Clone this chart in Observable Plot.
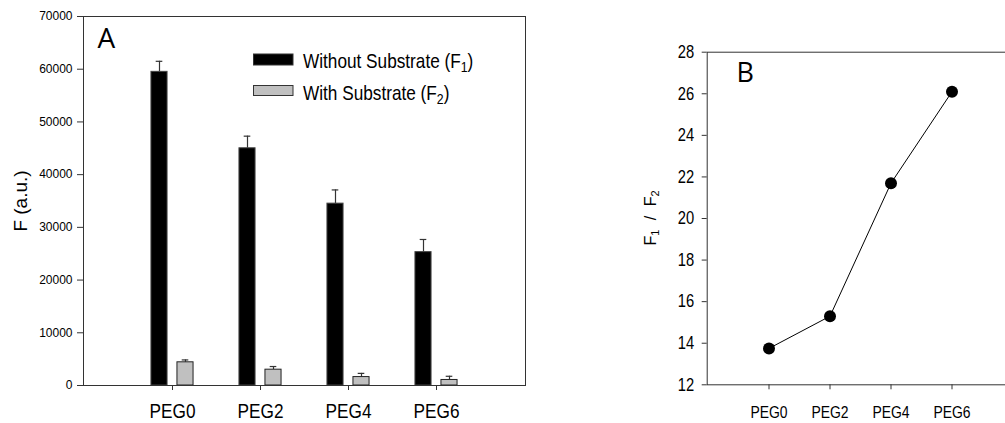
<!DOCTYPE html>
<html><head><meta charset="utf-8">
<script src="https://cdn.jsdelivr.net/npm/d3@7"></script>
<script src="https://cdn.jsdelivr.net/npm/@observablehq/plot@0.6"></script>
<style>
html,body{margin:0;padding:0;background:#fff;overflow:hidden;}
#wrap{position:relative;width:1005px;height:423px;overflow:hidden;}
#wrap > svg{position:absolute;top:0;}
#pa{left:0;}
#pb{left:560px;}
#ov{left:0;pointer-events:none;}
</style></head><body><div id="wrap"></div>
<script>
// ---- data ----
const categories = ["PEG0", "PEG2", "PEG4", "PEG6"];
const withoutSubstrate = [59500, 45000, 34500, 25300];      // F1
const withoutSubstrateErr = [2000, 2300, 2600, 2400];
const withSubstrate = [4400, 3000, 1600, 1050];             // F2
const withSubstrateErr = [450, 600, 700, 700];
const ratioF1F2 = [13.75, 15.3, 21.7, 26.1];
const yTicksA = [0, 10000, 20000, 30000, 40000, 50000, 60000, 70000];
const yTicksB = [12, 14, 16, 18, 20, 22, 24, 26, 28];

const rowsF1 = categories.map((c, i) => ({cat: c, v: withoutSubstrate[i], e: withoutSubstrateErr[i]}));
const rowsF2 = categories.map((c, i) => ({cat: c, v: withSubstrate[i], e: withSubstrateErr[i]}));
const rowsB = categories.map((c, i) => ({cat: c, r: ratioF1F2[i]}));

const SANS = "'Liberation Sans', Arial, sans-serif";
const NARROW_K = 0.82; // horizontal compression emulating a narrow face

// ---- panel A ----
const wA = 535, mlA = 83, mrA = 10;
const half = (wA - mlA - mrA) / 5 / 2;
const off = 13, bw = 16.5, cap = 7;
const plotA = Plot.plot({
  width: wA, height: 423, marginLeft: mlA, marginRight: mrA, marginTop: 16, marginBottom: 38,
  style: {fontFamily: SANS, background: "transparent", color: "#000"},
  x: {type: "band", domain: categories, paddingInner: 0, paddingOuter: 0.5},
  y: {domain: [0, 70000]},
  marks: [
    Plot.ruleX(rowsF1, {x: "cat", y1: "v", y2: d => d.v + d.e, dx: -off, stroke: "#333", strokeWidth: 1.2}),
    Plot.tickY(rowsF1, {x: "cat", y: d => d.v + d.e, insetLeft: half - off - cap / 2, insetRight: half + off - cap / 2, stroke: "#333", strokeWidth: 1.2}),
    Plot.ruleX(rowsF2, {x: "cat", y1: "v", y2: d => d.v + d.e, dx: off, stroke: "#333", strokeWidth: 1.2}),
    Plot.tickY(rowsF2, {x: "cat", y: d => d.v + d.e, insetLeft: half + off - cap / 2, insetRight: half - off - cap / 2, stroke: "#333", strokeWidth: 1.2}),
    Plot.rectY(rowsF1, {x: "cat", y: "v", fill: "#000", stroke: "#444", insetLeft: half - off - bw / 2, insetRight: half + off - bw / 2}),
    Plot.rectY(rowsF2, {x: "cat", y: "v", fill: "#c0c0c0", stroke: "#222", insetLeft: half + off - bw / 2, insetRight: half - off - bw / 2}),
    Plot.frame({stroke: "#333"}),
    Plot.axisY(yTicksA, {tickSize: 6, tickPadding: 5, fontSize: 12, tickFormat: d3.format("d"), label: null, stroke: "#333", fill: "#000"}),
    Plot.axisX({tickSize: 5, tickPadding: 13, fontSize: 21, label: null, stroke: "#333", fill: "#000"})
  ]
});
plotA.id = "pa";

// ---- panel B ----
const plotB = Plot.plot({
  width: 464, height: 423, marginLeft: 146.7, marginRight: 10.5, marginTop: 51.7, marginBottom: 38.7,
  style: {fontFamily: SANS, background: "transparent", color: "#000"},
  x: {type: "band", domain: categories, paddingInner: 0, paddingOuter: 0.5},
  y: {domain: [12, 28]},
  marks: [
    Plot.frame({stroke: "#333"}),
    Plot.line(rowsB, {x: "cat", y: "r", stroke: "#000", strokeWidth: 1}),
    Plot.dot(rowsB, {x: "cat", y: "r", r: 6, fill: "#000", stroke: "none"}),
    Plot.axisY(yTicksB, {tickSize: 5, tickPadding: 8, fontSize: 18, label: null, stroke: "#333", fill: "#000"}),
    Plot.axisX({tickSize: 5, tickPadding: 16, fontSize: 17, label: null, stroke: "#333", fill: "#000"})
  ]
});
plotB.id = "pb";

// compress tick labels horizontally (narrow typeface look)
function narrowTexts(svg, selector, k) {
  svg.querySelectorAll(selector).forEach(t => {
    const num = s => s != null && /^-?[\d.]+$/.test(s);
    const x = t.getAttribute("x"), y = t.getAttribute("y");
    let tr = t.getAttribute("transform") || "";
    if (num(x) || num(y)) {
      tr = `translate(${num(x) ? x : 0},${num(y) ? y : 0}) ` + tr;
      if (num(x)) t.removeAttribute("x");
      if (num(y)) t.removeAttribute("y");
    }
    t.setAttribute("transform", tr + ` scale(${k},1)`);
  });
}
narrowTexts(plotA, 'g[aria-label="x-axis tick label"] text', NARROW_K);
narrowTexts(plotB, 'g[aria-label="x-axis tick label"] text, g[aria-label="y-axis tick label"] text', NARROW_K);

const wrap = document.getElementById("wrap");
wrap.appendChild(plotA);
wrap.appendChild(plotB);

// ---- overlay texts: titles, legend, panel letters ----
const ov = d3.select(wrap).append("svg").attr("id", "ov").attr("width", 1005).attr("height", 423);

ov.append("text").attr("transform", "translate(27.3,201) rotate(-90)")
  .attr("text-anchor", "middle").attr("font-family", SANS).attr("font-size", 19).attr("fill", "#000").text("F (a.u.)");

const tB = ov.append("text").attr("transform", "translate(655.5,218) rotate(-90)")
  .attr("text-anchor", "middle").attr("font-family", SANS).attr("font-size", 16)
  .attr("word-spacing", 5).attr("fill", "#000");
tB.append("tspan").text("F");
tB.append("tspan").attr("font-size", 11).attr("dy", 3).text("1");
tB.append("tspan").attr("dy", -3).text(" / F");
tB.append("tspan").attr("font-size", 11).attr("dy", 3).text("2");

ov.append("text").attr("x", 97.5).attr("y", 48.3).attr("font-family", "'Open Sans', sans-serif").attr("font-size", 28).text("A");
ov.append("text").attr("x", 736.5).attr("y", 81.7).attr("font-family", "'Open Sans', sans-serif").attr("font-size", 27).text("B");

const legend = [
  {label: "Without Substrate (F", sub: "1", fill: "#000", y: 54, h: 11, ty: 68},
  {label: "With Substrate (F", sub: "2", fill: "#c0c0c0", y: 85.5, h: 10, ty: 99.5}
];
for (const L of legend) {
  ov.append("rect").attr("x", 253.5).attr("y", L.y).attr("width", 39.5).attr("height", L.h)
    .attr("fill", L.fill).attr("stroke", "#333").attr("stroke-width", 1);
  const t = ov.append("text").attr("transform", `translate(303,${L.ty}) scale(${NARROW_K},1)`)
    .attr("font-family", SANS).attr("font-size", 21).attr("fill", "#000");
  t.append("tspan").text(L.label);
  t.append("tspan").attr("font-size", 15).attr("dy", 4).text(L.sub);
  t.append("tspan").attr("dy", -4).text(")");
}
</script>
</body></html>
